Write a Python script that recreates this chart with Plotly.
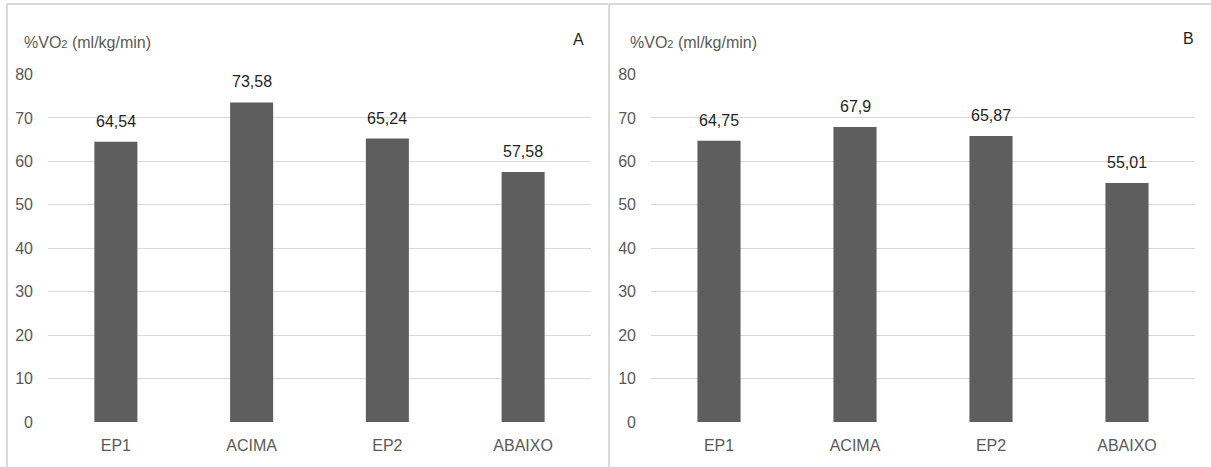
import plotly.graph_objects as go

categories = ["EP1", "ACIMA", "EP2", "ABAIXO"]
values_a = [64.54, 73.58, 65.24, 57.58]
values_b = [64.75, 67.9, 65.87, 55.01]
y_ticks = [0, 10, 20, 30, 40, 50, 60, 70, 80]
panel_labels = ["A", "B"]
y_title = "%VO<span style='font-size:11px'>2</span> (ml/kg/min)"

W, H = 1211, 467
FONT = "Liberation Sans Narrow, Arial Narrow, Liberation Sans, Arial, sans-serif"
BAR = "#5e5e5e"
GRID = "#d9d9d9"
TICK = "#595959"
LABEL = "#1f1f1f"

fig = go.Figure()
fig.add_trace(go.Bar(x=categories, y=values_a, marker=dict(color=BAR, line=dict(width=0)),
                     xaxis="x", yaxis="y", hoverinfo="skip"))
fig.add_trace(go.Bar(x=categories, y=values_b, marker=dict(color=BAR, line=dict(width=0)),
                     xaxis="x2", yaxis="y2", hoverinfo="skip"))

ydom = [45 / H, (H - 74.5) / H]
axis_common_y = dict(range=[0, 80], tickvals=y_ticks, showgrid=True, gridcolor=GRID, gridwidth=1.3,
                     zeroline=False, showline=False, ticks="", ticklabelstandoff=14, automargin=False,
                     tickfont=dict(family=FONT, size=16, color=TICK), fixedrange=True, domain=ydom)
axis_common_x = dict(showgrid=False, zeroline=False, showline=False, ticks="", automargin=False,
                     tickfont=dict(family=FONT, size=16, color=TICK), ticklabelstandoff=12,
                     fixedrange=True)

fig.update_layout(
    template="none",
    width=W, height=H, margin=dict(l=0, r=0, t=0, b=0, pad=0),
    paper_bgcolor="white", plot_bgcolor="white",
    showlegend=False, bargap=0.683, separators=",.",
    xaxis=dict(domain=[48 / W, 591 / W], anchor="y", **axis_common_x),
    yaxis=dict(anchor="x", **axis_common_y),
    xaxis2=dict(domain=[651 / W, 1195 / W], anchor="y2", **axis_common_x),
    yaxis2=dict(anchor="x2", **axis_common_y),
)

annotations = []
for xa, ya, vals in (("x", "y", values_a), ("x2", "y2", values_b)):
    for c, v in zip(categories, vals):
        annotations.append(dict(x=c, y=v, xref=xa, yref=ya, text=str(v).replace(".", ","),
                                showarrow=False, yanchor="bottom", yshift=10,
                                font=dict(family=FONT, size=16, color=LABEL)))

# axis titles and panel letters
for x0 in (22, 628):
    annotations.append(dict(x=x0 / W, y=(H - 42) / H, xref="paper", yref="paper", text=y_title,
                            showarrow=False, xanchor="left", yanchor="middle",
                            font=dict(family=FONT, size=16, color=TICK)))
annotations.append(dict(x=578 / W, y=(H - 40) / H, xref="paper", yref="paper", text=panel_labels[0],
                        showarrow=False, xanchor="center", yanchor="middle",
                        font=dict(family=FONT, size=16, color=LABEL)))
annotations.append(dict(x=1188 / W, y=(H - 39) / H, xref="paper", yref="paper", text=panel_labels[1],
                        showarrow=False, xanchor="center", yanchor="middle",
                        font=dict(family=FONT, size=16, color=LABEL)))
fig.update_layout(annotations=annotations)

border = dict(color=GRID, width=2)
shapes = [
    dict(type="line", xref="paper", yref="paper", x0=7 / W, x1=7 / W, y0=0, y1=(H - 4) / H, line=border),
    dict(type="line", xref="paper", yref="paper", x0=7 / W, x1=608 / W, y0=(H - 4) / H, y1=(H - 4) / H, line=border),
    dict(type="line", xref="paper", yref="paper", x0=609 / W, x1=609 / W, y0=0, y1=(H - 4) / H, line=border),
    dict(type="line", xref="paper", yref="paper", x0=609 / W, x1=1, y0=(H - 4) / H, y1=(H - 4) / H, line=border),
]
fig.update_layout(shapes=shapes)

fig.write_html("out.html", config={"displayModeBar": False})
